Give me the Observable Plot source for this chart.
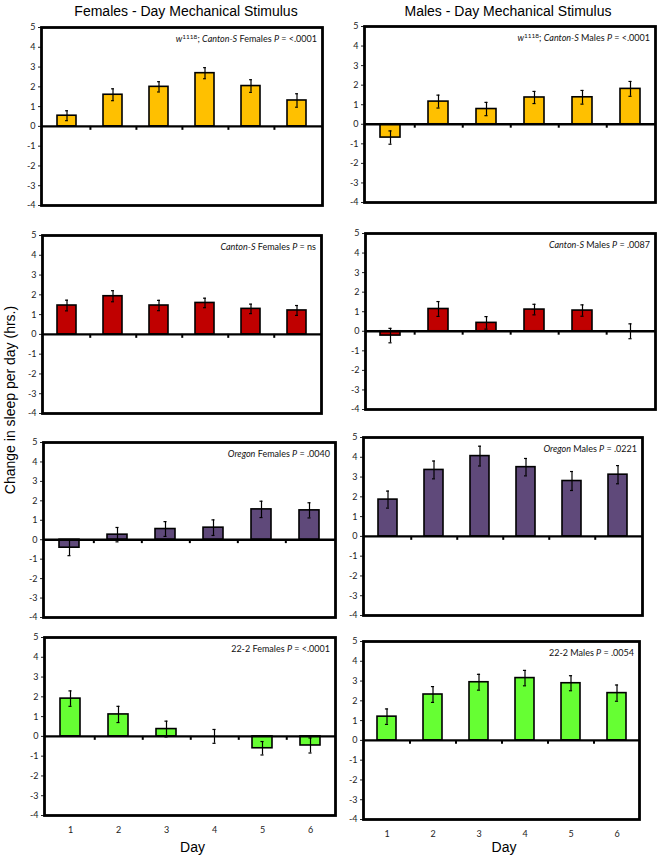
<!DOCTYPE html>
<html><head><meta charset="utf-8">
<script src="https://cdn.jsdelivr.net/npm/d3@7"></script>
<script src="https://cdn.jsdelivr.net/npm/@observablehq/plot@0.6"></script>
<style>
body{margin:0;background:#fff;}
#root{position:relative;width:661px;height:857px;overflow:hidden;font-family:"Liberation Sans",Arial,sans-serif;color:#000;}
.abs{position:absolute;white-space:nowrap;}
.title{font-size:14px;transform:translate(-50%,-50%);}
.note{font-family:Lato,"Open Sans",sans-serif;font-size:9px;color:#111;transform:translate(-100%,-50%);}
.note sup{font-size:6.5px;vertical-align:3px;line-height:0;}
</style></head><body><div id="root"></div>
<script>
// ---- data ----
const days = [1, 2, 3, 4, 5, 6];
const yTicks = [-4, -3, -2, -1, 0, 1, 2, 3, 4, 5];
const colTitles = ["Females - Day Mechanical Stimulus", "Males - Day Mechanical Stimulus"];
const yLabel = "Change in sleep per day (hrs.)";
const xLabel = "Day";

const w1118Females = [0.54, 1.60, 2.00, 2.69, 2.04, 1.31];
const w1118FemalesErr = [0.25, 0.30, 0.26, 0.28, 0.32, 0.34];
const w1118Males = [-0.68, 1.16, 0.78, 1.37, 1.38, 1.81];
const w1118MalesErr = [0.34, 0.33, 0.34, 0.31, 0.35, 0.38];
const cantonFemales = [1.46, 1.93, 1.46, 1.59, 1.29, 1.21];
const cantonFemalesErr = [0.27, 0.28, 0.26, 0.24, 0.24, 0.25];
const cantonMales = [-0.22, 1.14, 0.43, 1.11, 1.06, 0.0];
const cantonMalesErr = [0.37, 0.38, 0.32, 0.27, 0.29, 0.38];
const oregonFemales = [-0.41, 0.26, 0.55, 0.62, 1.56, 1.51];
const oregonFemalesErr = [0.41, 0.37, 0.38, 0.40, 0.42, 0.39];
const oregonMales = [1.86, 3.36, 4.06, 3.50, 2.80, 3.12];
const oregonMalesErr = [0.43, 0.45, 0.50, 0.44, 0.48, 0.46];
const f222Females = [1.91, 1.11, 0.37, 0.0, -0.60, -0.46];
const f222FemalesErr = [0.39, 0.41, 0.40, 0.35, 0.34, 0.38];
const f222Males = [1.20, 2.32, 2.94, 3.15, 2.89, 2.39];
const f222MalesErr = [0.39, 0.40, 0.40, 0.39, 0.38, 0.41];

const notes = [
  "<i>w</i><sup>1118</sup>; <i>Canton-S</i> Females <i>P</i> = &lt;.0001",
  "<i>w</i><sup>1118</sup>; <i>Canton-S</i> Males <i>P</i> = &lt;.0001",
  "<i>Canton-S</i> Females <i>P</i> = ns",
  "<i>Canton-S</i> Males <i>P</i> = .0087",
  "<i>Oregon</i> Females <i>P</i> = .0040",
  "<i>Oregon</i> Males <i>P</i> = .0221",
  "22-2 Females <i>P</i> = &lt;.0001",
  "22-2 Males <i>P</i> = .0054"
];
const colors = ["#FFC000", "#C00000", "#5F497A", "#66FF33"];

// ---- layout ----
const panels = [
  {v: w1118Females, e: w1118FemalesErr, c: colors[0], f: [41, 27, 322, 205], bottom: false},
  {v: w1118Males, e: w1118MalesErr, c: colors[0], f: [364, 26, 655, 202], bottom: false},
  {v: cantonFemales, e: cantonFemalesErr, c: colors[1], f: [42, 235, 321, 413], bottom: false},
  {v: cantonMales, e: cantonMalesErr, c: colors[1], f: [365, 233, 655, 409], bottom: false},
  {v: oregonFemales, e: oregonFemalesErr, c: colors[2], f: [43, 442, 335, 617], bottom: false},
  {v: oregonMales, e: oregonMalesErr, c: colors[2], f: [363, 437, 642, 615], bottom: false},
  {v: f222Females, e: f222FemalesErr, c: colors[3], f: [44, 637, 335, 815], bottom: true},
  {v: f222Males, e: f222MalesErr, c: colors[3], f: [363, 641, 639, 819], bottom: true}
];

const root = document.getElementById("root");
function addText(html, cls, x, y, extra) {
  const d = document.createElement("div");
  d.className = "abs " + cls;
  d.style.left = x + "px"; d.style.top = y + "px";
  if (extra) Object.assign(d.style, extra);
  d.innerHTML = html;
  root.appendChild(d);
  return d;
}

panels.forEach((p, i) => {
  const [x0, y0, x1, y1] = p.f;
  const ml = 24, mr = 4, mt = 4, mb = p.bottom ? 26 : 4;
  const W = x1 - x0, H = y1 - y0;
  const step = W / days.length;
  const data = days.map((d, k) => ({day: d, v: p.v[k], e: p.e[k]}));
  const bw = step * 0.41;
  const chart = Plot.plot({
    width: W + ml + mr, height: H + mt + mb,
    marginLeft: ml, marginRight: mr, marginTop: mt, marginBottom: mb,
    style: {fontFamily: "Lato, 'Open Sans', sans-serif", fontSize: "9px", color: "#222", background: "transparent", overflow: "visible"},
    x: {domain: days, paddingInner: 0.59, paddingOuter: 0.295, axis: p.bottom ? "bottom" : null, tickSize: 0, tickPadding: 11, label: null},
    y: {domain: [-4, 5], ticks: yTicks, tickSize: 3, tickPadding: 3, tickFormat: d => String(d), label: null},
    marks: [
      Plot.barY(data, {x: "day", y: "v", fill: p.c, stroke: "#000", strokeWidth: 1.6}),
      Plot.ruleY([0], {stroke: "#000", strokeWidth: 2.4}),
      Plot.ruleX(days.slice(0, 5), {x: d => d, y1: 0, y2: -0.2, dx: step / 2, stroke: "#000", strokeWidth: 2}),
      Plot.ruleX(data, {x: "day", y1: d => d.v - d.e, y2: d => d.v + d.e, stroke: "#000", strokeWidth: 1.2}),
      Plot.tickY(data, {x: "day", y: d => d.v + d.e, stroke: "#000", strokeWidth: 1.2, insetLeft: bw / 2 - 1.5, insetRight: bw / 2 - 1.5}),
      Plot.tickY(data, {x: "day", y: d => d.v - d.e, stroke: "#000", strokeWidth: 1.2, insetLeft: bw / 2 - 1.5, insetRight: bw / 2 - 1.5}),
      Plot.frame({stroke: "#000", strokeWidth: 2.8})
    ]
  });
  chart.style.position = "absolute";
  chart.style.left = (x0 - ml) + "px";
  chart.style.top = (y0 - mt) + "px";
  root.appendChild(chart);
  addText(notes[i], "note", x1 - 5, y0 + 11);
  if (p.bottom) addText(xLabel, "title", (x0 + x1) / 2 + 3, 847, {fontSize: "14px"});
});

addText(colTitles[0], "title", 186, 11);
addText(colTitles[1], "title", 508, 11);
addText(yLabel, "title", 10, 400, {fontSize: "14px", transform: "translate(-50%,-50%) rotate(-90deg)"});
</script></body></html>
